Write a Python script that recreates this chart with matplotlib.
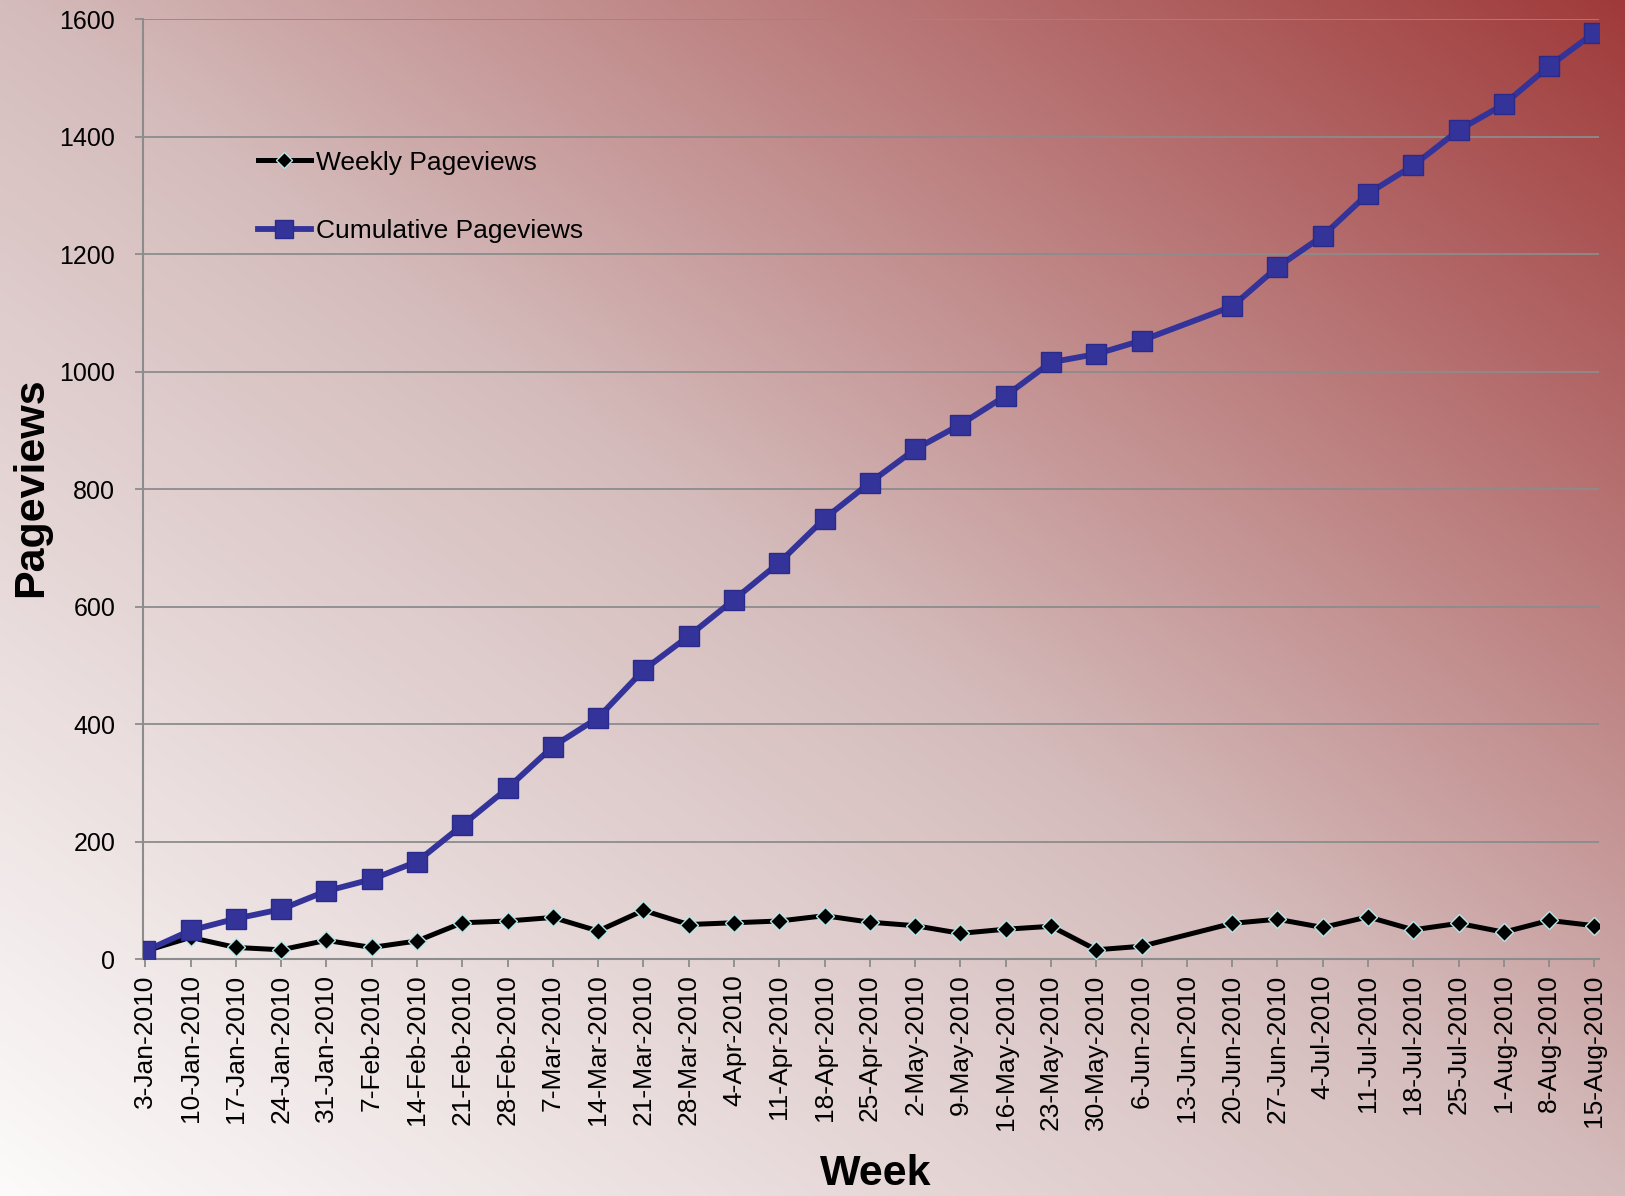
import numpy as np
import matplotlib
matplotlib.use("Agg")
import matplotlib.pyplot as plt
from matplotlib.lines import Line2D

plt.rcParams["font.family"] = ["Liberation Sans", "DejaVu Sans"]

# ── Data ──────────────────────────────────────────────────────────────────────
weeks = [
    "3-Jan-2010", "10-Jan-2010", "17-Jan-2010", "24-Jan-2010", "31-Jan-2010",
    "7-Feb-2010", "14-Feb-2010", "21-Feb-2010", "28-Feb-2010", "7-Mar-2010",
    "14-Mar-2010", "21-Mar-2010", "28-Mar-2010", "4-Apr-2010", "11-Apr-2010",
    "18-Apr-2010", "25-Apr-2010", "2-May-2010", "9-May-2010", "16-May-2010",
    "23-May-2010", "30-May-2010", "6-Jun-2010", "13-Jun-2010", "20-Jun-2010",
    "27-Jun-2010", "4-Jul-2010", "11-Jul-2010", "18-Jul-2010", "25-Jul-2010",
    "1-Aug-2010", "8-Aug-2010", "15-Aug-2010",
]
weekly = [14, 37, 20, 16, 32, 20, 31, 62, 65, 71, 48, 83, 59, 62, 65, 74,
          63, 57, 44, 51, 56, 16, 22, np.nan, 61, 68, 54, 72, 50, 61, 46, 66, 57]
cumulative = [14, 49, 69, 85, 116, 136, 166, 228, 291, 362, 411, 492, 550,
              612, 675, 750, 811, 868, 910, 959, 1016, 1030, 1053, np.nan,
              1111, 1178, 1231, 1303, 1351, 1411, 1455, 1520, 1577]
y_ticks = [0, 200, 400, 600, 800, 1000, 1200, 1400, 1600]

BLUE = "#333399"
GRID = "#8c8c8c"

# ── Figure + diagonal gradient background ─────────────────────────────────────
fig = plt.figure(figsize=(16.25, 11.96), dpi=100)

bg = fig.add_axes([0, 0, 1, 1], zorder=-10)
u = np.linspace(0, 1, 400)[None, :]
v = np.linspace(1, 0, 300)[:, None]
t = (u + v) / 2
c0 = np.array([252, 250, 250]) / 255
c1 = np.array([213, 188, 188]) / 255
c2 = np.array([160, 58, 58]) / 255
lo = np.clip(t / 0.5, 0, 1)[..., None]
hi = np.clip((t - 0.5) / 0.5, 0, 1)[..., None]
img = np.where((t < 0.5)[..., None], c0 + (c1 - c0) * lo, c1 + (c2 - c1) * hi)
bg.imshow(img, extent=[0, 1, 0, 1], aspect="auto", interpolation="bilinear")
bg.set_axis_off()

ax = fig.add_axes([0.088, 0.198, 0.896, 0.786])
ax.set_facecolor("none")

x = np.arange(len(weeks))
w = np.array(weekly, dtype=float)
c = np.array(cumulative, dtype=float)
wv = ~np.isnan(w)
cv = ~np.isnan(c)

ax.plot(x[wv], w[wv], color="black", lw=3.6, marker="D", ms=9.5,
        mfc="black", mec="#b5e6e6", mew=1.0, zorder=3)
ax.plot(x[cv], c[cv], color=BLUE, lw=4.2, marker="s", ms=14,
        mfc=BLUE, mec="#2a2a8a", mew=1.0, zorder=4)

ax.set_xlim(-0.05, 32.1)
ax.set_ylim(0, 1600)
ax.set_yticks(y_ticks)
ax.set_yticklabels([str(v) for v in y_ticks], fontsize=18)
ax.set_xticks(x)
ax.set_xticklabels(weeks, rotation=90, fontsize=19)

ax.grid(axis="y", color=GRID, lw=1.3)
ax.set_axisbelow(True)
for s in ("top", "right"):
    ax.spines[s].set_visible(False)
for s in ("left", "bottom"):
    ax.spines[s].set_color(GRID)
    ax.spines[s].set_linewidth(1.5)
ax.tick_params(axis="both", direction="out", length=6, width=1.3,
               color=GRID, labelcolor="black")
ax.tick_params(axis="y", pad=14)
ax.tick_params(axis="x", pad=5)

# ── Legend ────────────────────────────────────────────────────────────────────
handles = [
    Line2D([], [], color="black", lw=3.6, marker="D", ms=8,
           mfc="black", mec="#b5e6e6", mew=1.0),
    Line2D([], [], color=BLUE, lw=4.2, marker="s", ms=13,
           mfc=BLUE, mec="#2a2a8a", mew=1.0),
]
ax.legend(handles, ["Weekly Pageviews", "Cumulative Pageviews"],
          loc="center left", bbox_to_anchor=(258 / 1625, 1 - 197 / 1196),
          bbox_transform=fig.transFigure, frameon=False, fontsize=19,
          handlelength=2.0, handletextpad=0.2, labelspacing=1.7,
          borderpad=0, borderaxespad=0)

# ── Axis titles ───────────────────────────────────────────────────────────────
fig.text(0.019, 0.593, "Pageviews", rotation=90, ha="center", va="center",
         fontsize=31, fontweight="bold")
fig.text(0.539, 0.009, "Week", ha="center", va="baseline",
         fontsize=31, fontweight="bold")

fig.savefig("out.png", dpi=100)
